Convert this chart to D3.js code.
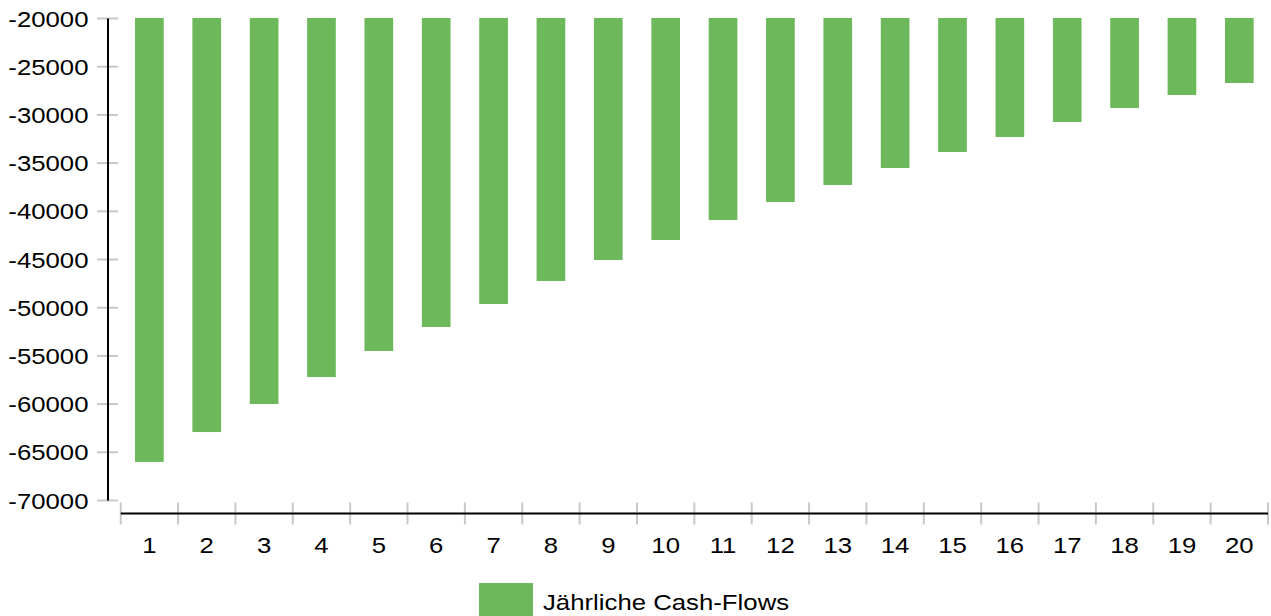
<!DOCTYPE html>
<html>
<head>
<meta charset="utf-8">
<script src="https://cdn.jsdelivr.net/npm/d3@7/dist/d3.min.js"></script>
<style>
  html, body { margin: 0; padding: 0; background: #fff; }
  svg { display: block; font-family: "Liberation Sans", Arial, Helvetica, sans-serif; }
</style>
</head>
<body>
<svg id="chart" width="1271" height="616"></svg>
<script>
// Years of the projection
const years = d3.range(1, 21).map(String);

// Annual cash flows (EUR)
const cashFlows = [
  -66050, -62950, -60040, -57240, -54540, -52050, -49670, -47280, -45100, -43030,
  -40950, -39090, -37320, -35560, -33900, -32340, -30790, -29340, -27990, -26740
];

// Value axis ticks
const yTicks = [-20000, -25000, -30000, -35000, -40000, -45000, -50000, -55000, -60000, -65000, -70000];

const seriesName = "Jährliche Cash-Flows";
const barColor = "#6cb85a";
const fontSize = 23;
const stretch = 1.12; // wide label face

const svg = d3.select("#chart");

const x = d3.scaleBand().domain(years).range([120.7, 1268]).paddingInner(0.5).paddingOuter(0.25);
const y = d3.scaleLinear().domain([-20000, -70000]).range([18, 500]);

// Bars hang from the top of the value axis
svg.append("g")
  .selectAll("rect")
  .data(cashFlows)
  .join("rect")
  .attr("x", (d, i) => x(years[i]))
  .attr("width", x.bandwidth())
  .attr("y", y(-20000))
  .attr("height", d => y(d) - y(-20000))
  .attr("fill", barColor);

// Y axis
const yAxis = svg.append("g").attr("transform", "translate(107.5,0)")
  .call(d3.axisLeft(y).tickValues(yTicks).tickFormat(d => String(d)).tickSize(0).tickPadding(0));
yAxis.select(".domain").attr("stroke", "#000").attr("stroke-width", 2);
yAxis.selectAll(".tick text")
  .attr("x", null).attr("dy", null)
  .attr("transform", "translate(-19,8) scale(" + stretch + ",1)")
  .attr("font-size", fontSize).attr("fill", "#000").attr("font-family", null);
yAxis.selectAll(".tick").append("line")
  .attr("x1", -10.5).attr("x2", 10.5)
  .attr("stroke", "#c8c8c8").attr("stroke-width", 2);
yAxis.select(".domain").raise();

// X axis
const xTickPos = d3.range(0, 21).map(i => 120.7 + i * x.step());
const xAxis = svg.append("g").attr("transform", "translate(0,513.5)");
xAxis.selectAll("line.grid")
  .data(xTickPos)
  .join("line")
  .attr("class", "grid")
  .attr("x1", d => d).attr("x2", d => d)
  .attr("y1", -11).attr("y2", 11)
  .attr("stroke", "#c8c8c8").attr("stroke-width", 2);
xAxis.append("line")
  .attr("x1", 120.7).attr("x2", 1268)
  .attr("stroke", "#000").attr("stroke-width", 2);
xAxis.selectAll("text")
  .data(years)
  .join("text")
  .attr("transform", d => "translate(" + (x(d) + x.bandwidth() / 2) + ",39.5) scale(" + stretch + ",1)")
  .attr("text-anchor", "middle")
  .attr("font-size", fontSize)
  .attr("fill", "#000")
  .text(d => d);

// Legend
const legend = svg.append("g").attr("transform", "translate(479,583)");
legend.append("rect").attr("width", 54).attr("height", 40).attr("fill", barColor);
legend.append("text")
  .attr("transform", "translate(64,27) scale(" + stretch + ",1)")
  .attr("font-size", fontSize)
  .attr("fill", "#000")
  .text(seriesName);
</script>
</body>
</html>
